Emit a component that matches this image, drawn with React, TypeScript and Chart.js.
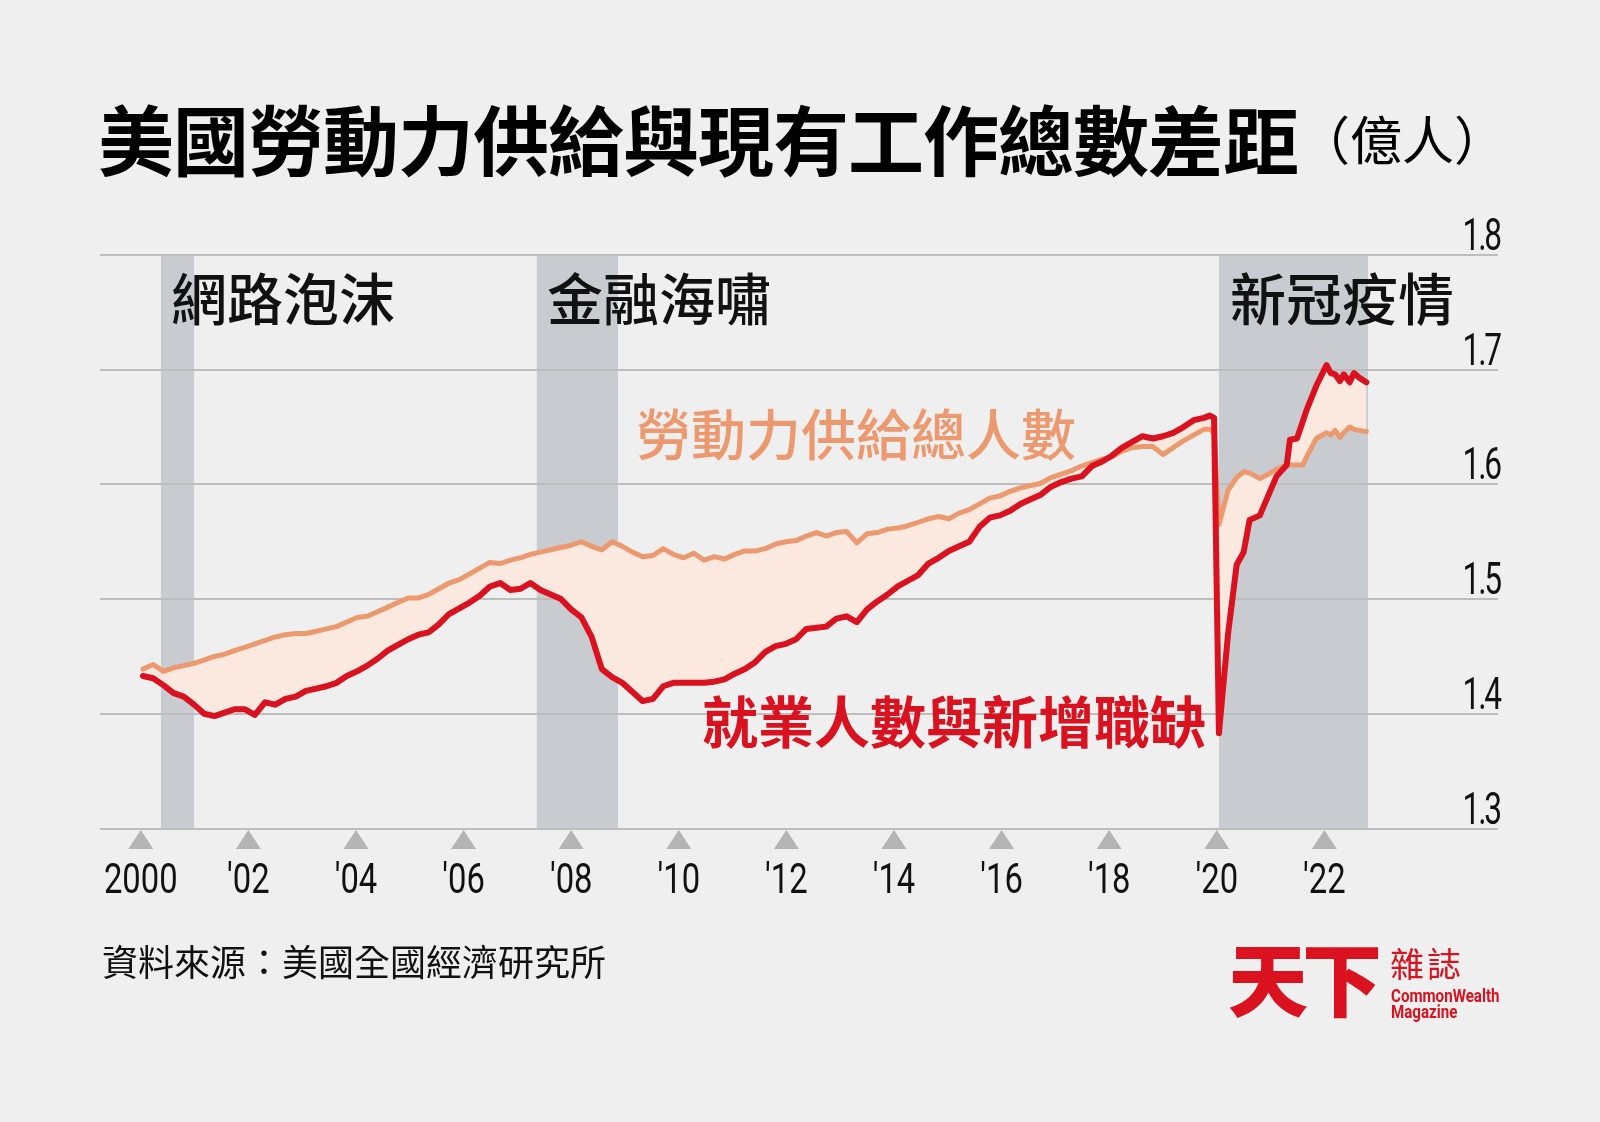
import React, { useEffect, useRef } from "react";
import { Chart, registerables } from "chart.js";

Chart.register(...registerables);

// ---------- data ----------
const years: number[] = [
  2000.04, 2000.23, 2000.42, 2000.61, 2000.80, 2000.99, 2001.18, 2001.37, 2001.56, 2001.74,
  2001.93, 2002.12, 2002.31, 2002.50, 2002.69, 2002.88, 2003.07, 2003.26, 2003.45, 2003.64,
  2003.83, 2004.02, 2004.21, 2004.40, 2004.59, 2004.78, 2004.97, 2005.16, 2005.35, 2005.54,
  2005.73, 2005.92, 2006.11, 2006.30, 2006.49, 2006.68, 2006.87, 2007.06, 2007.24, 2007.43,
  2007.62, 2007.81, 2008.00, 2008.19, 2008.38, 2008.57, 2008.76, 2008.95, 2009.14, 2009.33,
  2009.52, 2009.71, 2009.90, 2010.09, 2010.28, 2010.47, 2010.66, 2010.85, 2011.04, 2011.23,
  2011.42, 2011.61, 2011.80, 2011.99, 2012.18, 2012.37, 2012.56, 2012.74, 2012.93, 2013.12,
  2013.31, 2013.50, 2013.69, 2013.88, 2014.07, 2014.26, 2014.45, 2014.64, 2014.83, 2015.02,
  2015.21, 2015.40, 2015.59, 2015.78, 2015.97, 2016.16, 2016.35, 2016.54, 2016.73, 2016.92,
  2017.11, 2017.30, 2017.49, 2017.68, 2017.87, 2018.05, 2018.24, 2018.43, 2018.62, 2018.81,
  2019.00, 2019.19, 2019.38, 2019.57, 2019.76,
  2019.87, 2019.95, 2020.04, 2020.21, 2020.37, 2020.50, 2020.61, 2020.80, 2021.00, 2021.11,
  2021.30, 2021.36, 2021.49, 2021.60, 2021.67, 2021.85, 2022.04, 2022.12, 2022.20, 2022.29,
  2022.36, 2022.47, 2022.55, 2022.65, 2022.78,
];

// 勞動力供給總人數 (億人)
const laborForce: number[] = [
  1.439, 1.443, 1.437, 1.440, 1.442, 1.444, 1.447, 1.450, 1.452, 1.455,
  1.458, 1.461, 1.464, 1.467, 1.469, 1.470, 1.470, 1.472, 1.474, 1.476,
  1.480, 1.484, 1.485, 1.489, 1.493, 1.497, 1.501, 1.501, 1.504, 1.509,
  1.514, 1.517, 1.522, 1.527, 1.532, 1.531, 1.534, 1.536, 1.539, 1.541,
  1.543, 1.545, 1.547, 1.550, 1.546, 1.543, 1.550, 1.546, 1.541, 1.537,
  1.538, 1.544, 1.539, 1.536, 1.540, 1.534, 1.537, 1.535, 1.539, 1.542,
  1.542, 1.544, 1.548, 1.550, 1.551, 1.555, 1.558, 1.555, 1.558, 1.559,
  1.549, 1.557, 1.558, 1.561, 1.562, 1.564, 1.567, 1.570, 1.572, 1.570,
  1.575, 1.578, 1.583, 1.588, 1.590, 1.594, 1.597, 1.599, 1.601, 1.606,
  1.609, 1.612, 1.616, 1.619, 1.622, 1.624, 1.629, 1.632, 1.633, 1.633,
  1.626, 1.632, 1.638, 1.643, 1.648,
  1.648, 1.645, 1.565, 1.595, 1.606, 1.611, 1.610, 1.605, 1.610, 1.613,
  1.617, 1.617, 1.617, 1.617, 1.624, 1.640, 1.645, 1.643, 1.647, 1.641,
  1.645, 1.650, 1.648, 1.647, 1.646,
];

// 就業人數與新增職缺 (億人)
const jobsPlusOpenings: number[] = [
  1.433, 1.431, 1.425, 1.418, 1.415, 1.408, 1.400, 1.398, 1.401, 1.404,
  1.404, 1.399, 1.410, 1.408, 1.413, 1.415, 1.420, 1.422, 1.424, 1.427,
  1.433, 1.437, 1.442, 1.448, 1.455, 1.460, 1.465, 1.469, 1.471, 1.478,
  1.487, 1.492, 1.497, 1.503, 1.511, 1.514, 1.508, 1.509, 1.514, 1.508,
  1.504, 1.500, 1.491, 1.484, 1.467, 1.439, 1.432, 1.427, 1.419, 1.411,
  1.413, 1.424, 1.427, 1.427, 1.427, 1.427, 1.428, 1.430, 1.435, 1.439,
  1.445, 1.454, 1.459, 1.461, 1.465, 1.474, 1.475, 1.476, 1.483, 1.485,
  1.480, 1.491, 1.498, 1.504, 1.511, 1.516, 1.521, 1.531, 1.536, 1.542,
  1.546, 1.550, 1.563, 1.571, 1.573, 1.577, 1.583, 1.587, 1.591, 1.598,
  1.602, 1.605, 1.607, 1.616, 1.620, 1.625, 1.632, 1.637, 1.642, 1.640,
  1.642, 1.645, 1.650, 1.656, 1.658,
  1.660, 1.658, 1.383, 1.470, 1.530, 1.541, 1.569, 1.573, 1.595, 1.607,
  1.617, 1.639, 1.640, 1.655, 1.665, 1.686, 1.704, 1.697, 1.696, 1.690,
  1.696, 1.689, 1.697, 1.693, 1.689,
];

const xTickYears: number[] = [2000, 2002, 2004, 2006, 2008, 2010, 2012, 2014, 2016, 2018, 2020, 2022];
const yTickValues: number[] = [1.3, 1.4, 1.5, 1.6, 1.7, 1.8];

const bandStarts: number[] = [2000.375, 2007.36, 2020.04];
const bandEnds: number[] = [2000.99, 2008.87, 2022.81];
const bandNames: string[] = ["網路泡沫", "金融海嘯", "新冠疫情"];

const titleText = "美國勞動力供給與現有工作總數差距";
const unitText = "（億人）";
const laborLabel = "勞動力供給總人數";
const jobsLabel = "就業人數與新增職缺";
const sourceText = "資料來源：美國全國經濟研究所";

// ---------- styles ----------
const BG = "#efefef";
const BAND = "#c8ccd1";
const GRID = "#bdbdbd";
const RED = "#da111e";
const ORANGE = "#ed996f";
const PINK = "#fbe8df";
const TRI = "#b4b4b4";
const CJK = "'Noto Sans CJK TC', 'Noto Sans CJK SC', sans-serif";
const DIGITS = "Roboto, 'DejaVu Sans', sans-serif";

const xLabel = (v: number) => (v === 2000 ? "2000" : "'" + String(v).slice(2));

function drawSquashed(ctx: any, text: string, x: number, y: number, sx: number, align: string) {
  ctx.save();
  ctx.translate(x, y);
  ctx.scale(sx, 1);
  ctx.textAlign = align;
  ctx.fillText(text, 0, 0);
  ctx.restore();
}

const decorPlugin = {
  id: "decor",
  beforeDraw(chart: any) {
    const { ctx, chartArea, scales } = chart;
    ctx.save();
    ctx.fillStyle = BG;
    ctx.fillRect(0, 0, chart.width, chart.height);
    ctx.fillStyle = BAND;
    for (let i = 0; i < bandStarts.length; i++) {
      const x0 = scales.x.getPixelForValue(bandStarts[i]);
      const x1 = scales.x.getPixelForValue(bandEnds[i]);
      ctx.fillRect(x0, chartArea.top, x1 - x0, chartArea.bottom - chartArea.top);
    }
    ctx.restore();
  },
  afterDraw(chart: any) {
    const { ctx, chartArea, scales } = chart;
    ctx.save();
    // triangles + labels under x axis
    ctx.textBaseline = "alphabetic";
    ctx.font = `400 42px ${DIGITS}`;
    for (const t of scales.x.ticks) {
      const px = scales.x.getPixelForValue(t.value);
      const top = chartArea.bottom + 1.5;
      ctx.fillStyle = TRI;
      ctx.beginPath();
      ctx.moveTo(px, top);
      ctx.lineTo(px + 12.5, top + 19);
      ctx.lineTo(px - 12.5, top + 19);
      ctx.closePath();
      ctx.fill();
      ctx.fillStyle = "#111";
      drawSquashed(ctx, xLabel(Number(t.value)), px, chartArea.bottom + 64.5, 0.78, "center");
    }
    // y tick labels (right, above each grid line)
    ctx.fillStyle = "#111";
    ctx.font = `400 44px ${DIGITS}`;
    (ctx as any).letterSpacing = "-3px";
    for (const t of scales.y.ticks) {
      const py = scales.y.getPixelForValue(t.value);
      drawSquashed(ctx, Number(t.value).toFixed(1), chartArea.right + 2, py - 5, 0.72, "right");
    }
    (ctx as any).letterSpacing = "0px";

    ctx.textAlign = "left";
    ctx.textBaseline = "middle";
    // band names
    ctx.fillStyle = "#111";
    ctx.font = `500 56px ${CJK}`;
    const nameX = [171, 547, 1230];
    for (let i = 0; i < bandNames.length; i++) {
      ctx.fillText(bandNames[i], nameX[i], 299);
    }
    // series labels
    ctx.fillStyle = ORANGE;
    ctx.font = `500 55px ${CJK}`;
    ctx.fillText(laborLabel, 636, 434);
    ctx.fillStyle = RED;
    ctx.font = `700 56px ${CJK}`;
    ctx.fillText(jobsLabel, 702, 722);

    // title
    ctx.fillStyle = "#000";
    ctx.font = `700 76px ${CJK}`;
    (ctx as any).letterSpacing = "-1px";
    ctx.fillText(titleText, 98, 141);
    (ctx as any).letterSpacing = "0px";
    ctx.font = `400 52px ${CJK}`;
    ctx.fillText(unitText, 1298, 140);

    // source
    ctx.fillStyle = "#111";
    ctx.font = `400 36px ${CJK}`;
    ctx.fillText(sourceText, 102, 962);

    // logo
    ctx.fillStyle = RED;
    ctx.font = `900 80px ${CJK}`;
    (ctx as any).letterSpacing = "-6px";
    ctx.fillText("天下", 1228, 980);
    (ctx as any).letterSpacing = "3px";
    ctx.font = `400 34px ${CJK}`;
    ctx.fillText("雜誌", 1390, 964);
    (ctx as any).letterSpacing = "0px";
    ctx.textBaseline = "alphabetic";
    ctx.font = `700 18px ${DIGITS}`;
    drawSquashed(ctx, "CommonWealth", 1391, 1002, 0.84, "left");
    drawSquashed(ctx, "Magazine", 1391, 1018, 0.84, "left");
    ctx.restore();
  },
};

export default function App() {
  const ref = useRef<HTMLCanvasElement>(null);
  useEffect(() => {
    document.body.style.margin = "0";
    document.body.style.background = BG;
    const canvas = ref.current;
    if (!canvas) return;
    const chart = new Chart(canvas, {
      type: "line",
      data: {
        datasets: [
          {
            label: jobsLabel,
            data: years.map((x, i) => ({ x, y: jobsPlusOpenings[i] })),
            borderColor: RED,
            borderWidth: 6,
            pointRadius: 0,
            tension: 0,
            fill: "+1",
            backgroundColor: PINK,
            borderJoinStyle: "round",
            borderCapStyle: "round",
          },
          {
            label: laborLabel,
            data: years.map((x, i) => ({ x, y: laborForce[i] })),
            borderColor: ORANGE,
            borderWidth: 5,
            pointRadius: 0,
            tension: 0,
            fill: false,
            borderJoinStyle: "round",
            borderCapStyle: "round",
          },
        ],
      },
      options: {
        responsive: false,
        animation: false,
        layout: { padding: { left: 100, right: 102, top: 255, bottom: 293.5 } },
        plugins: {
          legend: { display: false },
          tooltip: { enabled: false },
          filler: { drawTime: "beforeDatasetsDraw" },
        },
        scales: {
          x: {
            type: "linear",
            min: 1999.242,
            max: 2025.227,
            afterBuildTicks: (s: any) => {
              s.ticks = xTickYears.map((v) => ({ value: v }));
            },
            grid: { display: false, drawTicks: false },
            border: { display: false },
            ticks: { display: false },
          },
          y: {
            position: "right",
            min: 1.3,
            max: 1.8,
            afterBuildTicks: (s: any) => {
              s.ticks = yTickValues.map((v) => ({ value: v }));
            },
            grid: { color: GRID, lineWidth: 2, drawTicks: false },
            border: { display: false },
            ticks: { display: false },
          },
        },
      } as any,
      plugins: [decorPlugin],
    });
    return () => chart.destroy();
  }, []);
  return (
    <canvas
      ref={ref}
      width={1600}
      height={1122}
      style={{ display: "block", width: 1600, height: 1122 }}
    />
  );
}
